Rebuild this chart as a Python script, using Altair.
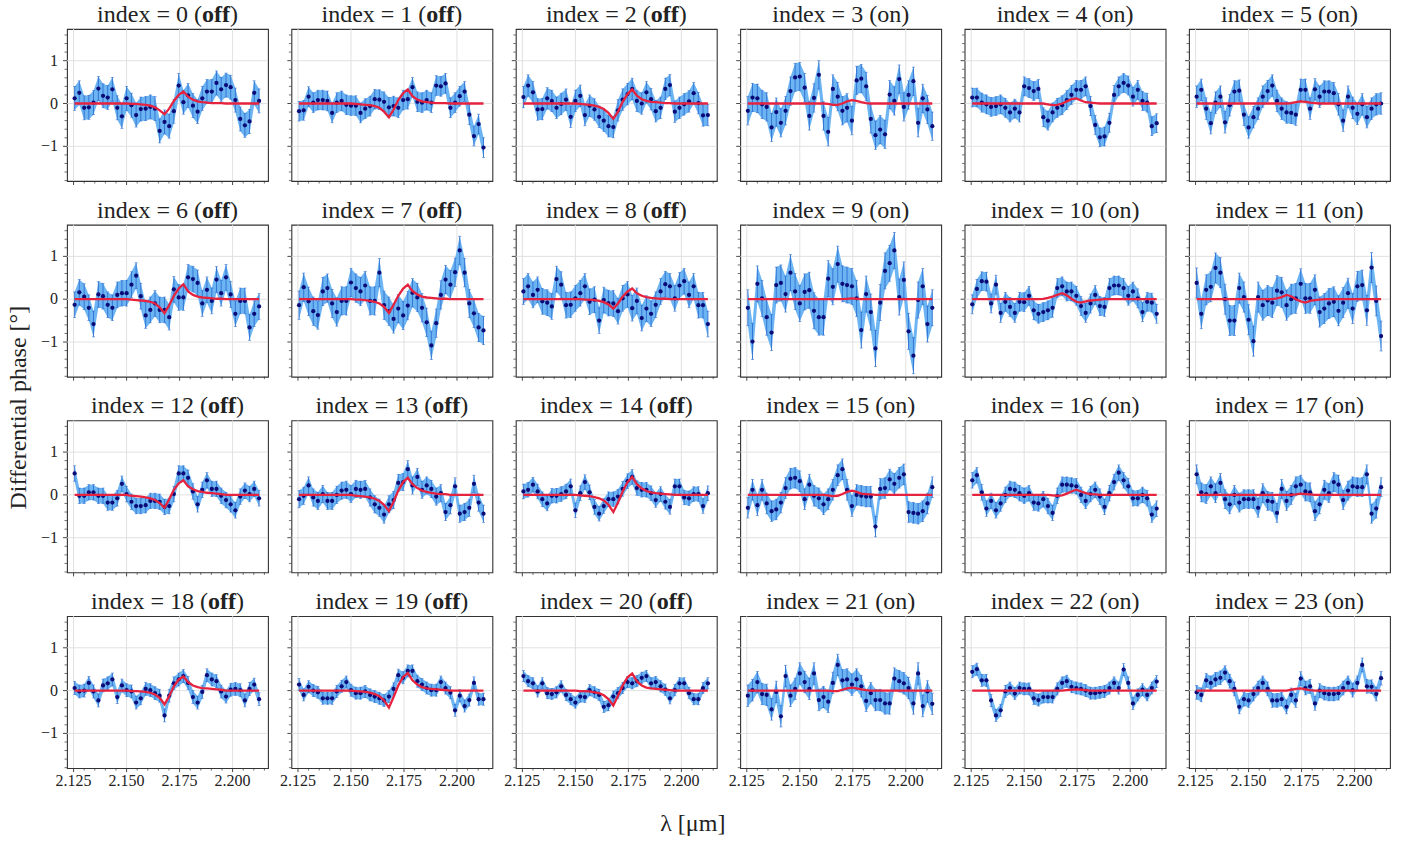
import altair as alt
import pandas as pd

# Spectral channels (micron)
WAVELENGTH = [2.1255, 2.1277, 2.1300, 2.1322, 2.1344, 2.1367, 2.1389, 2.1411, 2.1433, 2.1456,
              2.1478, 2.1500, 2.1523, 2.1545, 2.1567, 2.1590, 2.1612, 2.1634, 2.1656, 2.1679,
              2.1701, 2.1723, 2.1746, 2.1768, 2.1790, 2.1813, 2.1835, 2.1857, 2.1879, 2.1902,
              2.1924, 2.1946, 2.1969, 2.1991, 2.2013, 2.2036, 2.2058, 2.2080, 2.2102, 2.2125]

# Measured differential phase per frame (degrees)
PHASE_0 = [0.12, 0.25, -0.10, -0.09, 0.02, 0.35, 0.18, 0.14, 0.33, -0.10, -0.30, 0.12, -0.04, -0.27, -0.13, -0.12, -0.08, -0.12, -0.64, -0.43,
           -0.53, -0.18, 0.42, 0.03, 0.19, -0.05, -0.19, 0.12, 0.28, 0.28, 0.48, 0.33, 0.43, 0.38, 0.08, -0.36, -0.51, -0.42, 0.25, 0.06]
PHASE_1 = [-0.18, -0.16, 0.16, 0.02, 0.08, 0.08, 0.06, -0.22, 0.02, 0.06, -0.03, -0.05, -0.05, -0.22, -0.12, -0.06, 0.10, 0.09, 0.04, -0.09,
           -0.06, -0.10, 0.08, 0.10, 0.38, 0.04, 0.02, 0.08, 0.02, 0.42, 0.40, 0.47, -0.10, 0.02, 0.17, 0.28, -0.26, -0.76, -0.48, -1.03]
PHASE_2 = [0.15, 0.42, 0.26, -0.14, -0.13, 0.12, 0.06, -0.10, -0.01, 0.09, -0.31, 0.06, 0.18, -0.27, -0.05, -0.14, -0.31, -0.40, -0.53, -0.55,
           -0.16, 0.09, 0.22, 0.34, 0.06, 0.00, 0.26, 0.10, -0.18, -0.10, 0.34, 0.43, -0.19, -0.10, -0.02, 0.05, 0.24, 0.01, -0.28, -0.27]
PHASE_3 = [-0.17, 0.14, 0.12, -0.02, -0.08, -0.56, -0.20, -0.45, -0.17, 0.29, 0.61, 0.63, 0.37, -0.29, 0.13, 0.67, -0.29, -0.66, 0.34, 0.16,
           -0.17, -0.10, -0.40, 0.54, 0.58, 0.40, -0.36, -0.74, -0.61, -0.72, 0.21, 0.06, 0.57, -0.08, 0.20, 0.52, -0.45, 0.12, -0.14, -0.53]
PHASE_4 = [0.14, 0.14, 0.02, -0.02, -0.08, -0.06, -0.02, -0.10, -0.21, -0.12, -0.21, 0.40, 0.36, 0.29, 0.34, -0.32, -0.40, -0.21, -0.10, -0.04,
           0.08, 0.20, 0.32, 0.32, 0.40, -0.06, -0.50, -0.79, -0.77, -0.45, 0.20, 0.40, 0.48, 0.42, 0.16, 0.32, 0.06, 0.02, -0.53, -0.46]
PHASE_5 = [0.16, 0.32, -0.12, -0.46, 0.02, 0.16, -0.44, -0.04, 0.28, 0.30, -0.26, -0.56, -0.32, -0.12, 0.16, 0.29, 0.42, 0.06, -0.12, -0.21,
           -0.22, -0.26, 0.32, 0.32, -0.12, 0.33, 0.16, 0.28, 0.28, 0.24, -0.02, -0.40, 0.16, -0.10, -0.24, -0.02, -0.32, -0.12, -0.02, 0.00]
PHASE_6 = [-0.13, 0.16, 0.06, -0.20, -0.58, 0.11, 0.07, -0.13, -0.20, 0.10, 0.14, 0.14, 0.34, 0.55, 0.07, -0.38, -0.25, -0.10, -0.25, -0.25,
           -0.42, 0.23, 0.04, 0.04, 0.51, 0.47, 0.38, -0.10, 0.22, -0.04, 0.46, 0.14, 0.51, 0.11, -0.34, -0.04, -0.04, -0.66, -0.34, -0.17]
PHASE_7 = [-0.14, 0.28, -0.05, -0.28, -0.37, 0.18, 0.26, -0.10, -0.30, -0.04, -0.04, 0.39, 0.26, 0.18, 0.32, -0.04, -0.04, 0.62, -0.14, -0.28,
           -0.46, -0.22, -0.38, -0.15, 0.15, 0.04, -0.20, -0.54, -1.08, -0.56, 0.10, 0.46, 0.34, 0.63, 1.14, 0.62, -0.10, -0.33, -0.66, -0.73]
PHASE_8 = [0.18, 0.30, 0.10, 0.22, -0.05, -0.08, -0.17, 0.47, 0.34, -0.14, -0.13, 0.02, 0.14, 0.30, -0.06, -0.01, -0.50, -0.02, -0.09, -0.10,
           -0.28, 0.02, 0.11, -0.21, -0.04, -0.44, -0.22, -0.34, -0.13, 0.18, 0.35, 0.30, 0.02, 0.32, 0.42, 0.10, 0.30, -0.14, -0.14, -0.58]
PHASE_9 = [-0.20, -0.99, 0.36, 0.02, -0.42, -0.78, 0.33, 0.38, 0.12, 0.62, 0.18, -0.10, 0.17, 0.21, -0.27, -0.42, -0.42, 0.48, 0.29, 0.82,
           0.36, 0.33, 0.30, 0.02, -0.72, 0.12, -0.30, -1.15, -0.08, 0.66, 0.84, 1.14, 0.05, 0.45, -0.75, -1.32, -0.02, 0.30, -0.58, -0.20]
PHASE_10 = [-0.12, 0.24, 0.42, 0.41, -0.10, 0.34, -0.32, -0.06, -0.18, -0.32, -0.06, -0.07, 0.08, -0.26, -0.34, -0.30, -0.26, -0.20, 0.26, 0.30,
            0.18, 0.18, 0.08, -0.16, -0.32, -0.10, 0.10, -0.16, -0.18, 0.26, 0.32, 0.32, 0.26, 0.08, 0.18, 0.02, -0.30, -0.06, -0.08, -0.34]
PHASE_11 = [0.38, -0.34, 0.22, 0.29, 0.73, 0.62, 0.00, -0.50, -0.50, 0.26, 0.05, -0.48, -0.98, 0.05, -0.14, -0.03, -0.08, 0.20, 0.16, -0.14,
            0.00, 0.02, 0.36, 0.02, 0.02, 0.22, -0.30, -0.22, -0.10, -0.06, -0.27, -0.08, 0.14, -0.22, 0.30, 0.33, -0.26, 0.74, -0.04, -0.86]
PHASE_12 = [0.50, -0.02, -0.02, 0.06, 0.06, -0.02, -0.02, -0.18, -0.18, -0.08, 0.26, 0.02, -0.16, -0.26, -0.26, -0.24, -0.14, -0.14, -0.16, -0.28,
            -0.26, 0.02, 0.50, 0.50, 0.40, 0.08, -0.22, 0.12, 0.34, 0.14, 0.14, -0.02, -0.12, -0.22, -0.36, -0.04, 0.10, 0.02, 0.14, -0.08]
PHASE_13 = [-0.10, -0.02, 0.22, -0.06, -0.14, 0.02, -0.14, -0.14, 0.00, 0.10, 0.12, 0.02, 0.14, 0.12, 0.14, -0.06, -0.22, -0.30, -0.46, -0.22,
            -0.12, 0.28, 0.30, 0.60, 0.22, 0.42, 0.12, 0.22, 0.14, -0.04, 0.04, -0.40, -0.24, 0.20, -0.44, -0.40, -0.30, 0.26, -0.18, -0.44]
PHASE_14 = [0.08, 0.12, 0.24, 0.08, -0.10, -0.20, -0.02, -0.02, 0.02, 0.08, 0.20, -0.36, 0.04, 0.30, 0.06, -0.28, -0.44, -0.26, -0.10, -0.10,
            -0.04, 0.14, 0.32, 0.42, 0.16, 0.12, 0.12, 0.04, -0.12, 0.02, -0.16, -0.28, 0.20, 0.20, -0.06, -0.08, 0.02, 0.02, -0.26, 0.04]
PHASE_15 = [-0.30, 0.12, -0.24, 0.12, -0.20, -0.38, -0.34, -0.18, 0.16, 0.38, 0.40, 0.32, -0.10, 0.24, -0.02, -0.08, -0.22, -0.10, 0.12, 0.46,
            0.60, 0.12, -0.26, 0.00, -0.02, -0.04, -0.04, -0.74, 0.14, 0.16, 0.36, 0.26, 0.40, 0.48, -0.40, -0.42, -0.44, -0.38, -0.20, 0.18]
PHASE_16 = [0.34, 0.46, 0.06, -0.32, -0.14, -0.36, -0.20, 0.00, 0.14, 0.12, 0.04, -0.02, 0.04, -0.18, -0.20, -0.10, -0.26, -0.42, -0.02, 0.24,
            0.24, 0.22, 0.20, 0.00, -0.14, 0.02, 0.12, -0.04, -0.28, 0.04, 0.30, 0.52, 0.34, 0.20, -0.08, -0.08, 0.00, -0.08, -0.46, -0.32]
PHASE_17 = [0.48, 0.06, 0.02, 0.20, 0.04, 0.28, -0.10, -0.22, 0.00, -0.18, -0.10, -0.10, -0.10, -0.30, 0.04, -0.14, -0.16, -0.42, 0.14, -0.14,
            0.00, 0.20, 0.24, 0.08, 0.06, -0.38, -0.22, 0.12, 0.04, 0.30, 0.24, -0.12, 0.10, 0.20, 0.18, 0.18, 0.48, -0.44, -0.32, 0.18]
PHASE_18 = [0.06, -0.02, 0.00, 0.18, -0.02, -0.23, 0.12, 0.17, 0.26, -0.15, 0.12, 0.01, -0.02, -0.28, -0.18, 0.04, 0.01, -0.06, -0.12, -0.58,
            -0.12, 0.17, 0.26, 0.34, 0.18, -0.15, -0.28, -0.03, 0.36, 0.26, 0.22, -0.02, -0.14, 0.02, 0.04, 0.01, -0.23, 0.04, 0.14, -0.20]
PHASE_19 = [0.14, -0.10, 0.09, 0.00, -0.04, -0.18, -0.18, -0.18, -0.02, 0.10, 0.20, 0.01, -0.06, -0.06, -0.02, -0.10, -0.14, -0.18, -0.23, -0.14,
            0.04, 0.36, 0.30, 0.46, 0.46, 0.22, 0.14, 0.06, 0.01, 0.01, 0.20, 0.06, -0.05, -0.46, -0.12, -0.36, -0.22, 0.18, -0.20, -0.20]
PHASE_20 = [0.34, 0.22, 0.17, -0.02, 0.17, -0.06, -0.08, -0.04, 0.10, -0.10, -0.20, -0.28, -0.14, -0.15, 0.01, -0.04, -0.10, -0.38, -0.34, -0.14,
            -0.06, 0.06, 0.20, 0.17, 0.22, 0.30, 0.34, 0.17, 0.20, 0.10, 0.02, -0.18, 0.01, 0.17, 0.17, -0.06, -0.20, -0.20, 0.06, 0.17]
PHASE_21 = [-0.12, 0.01, 0.20, -0.08, -0.10, -0.44, -0.03, -0.60, 0.34, -0.12, 0.04, 0.40, 0.20, 0.04, 0.40, -0.22, -0.15, -0.26, 0.18, 0.60,
            0.24, 0.26, 0.14, 0.26, 0.10, -0.24, -0.06, -0.22, -0.22, -0.30, -0.30, 0.28, 0.22, 0.17, 0.06, -0.30, 0.40, -0.36, -0.02, -0.31]
PHASE_22 = [0.44, 0.50, 0.24, 0.24, -0.23, -0.58, -0.46, -0.02, 0.06, -0.07, 0.06, 0.04, 0.04, -0.18, -0.22, -0.15, -0.15, -0.15, 0.04, 0.18,
            0.22, 0.09, 0.06, 0.04, 0.00, -0.06, -0.06, -0.04, -0.02, 0.06, 0.18, 0.06, 0.49, 0.18, -0.30, -0.10, 0.02, -0.10, 0.06, 0.21]
PHASE_23 = [-0.04, -0.10, 0.24, 0.18, 0.26, 0.30, 0.42, 0.22, 0.04, -0.38, -0.20, -0.23, -0.08, 0.06, 0.18, 0.04, -0.23, -0.23, -0.20, -0.38,
            -0.10, -0.23, 0.28, 0.06, 0.10, -0.30, 0.00, -0.06, -0.08, -0.08, -0.06, 0.06, 0.18, 0.01, 0.18, 0.60, 0.10, 0.09, -0.08, 0.29]

# Phase uncertainty per frame (degrees)
ERR = [0.28, 0.23, 0.25, 0.33, 0.22, 0.25,
       0.30, 0.33, 0.30, 0.42, 0.22, 0.35,
       0.18, 0.20, 0.17, 0.24, 0.18, 0.22,
       0.15, 0.14, 0.13, 0.25, 0.14, 0.16]

# Chopping state of each frame
STATE = ["off", "off", "off", "on", "on", "on",
         "off", "off", "off", "on", "on", "on",
         "off", "off", "off", "on", "on", "on",
         "off", "off", "off", "on", "on", "on"]

# Model phase over the line region (channels 12..31); flat zero outside it
LINE_START, LINE_LEN = 12, 20
MODEL_0 = [-0.01, -0.01, -0.02, -0.03, -0.05, -0.09, -0.16, -0.25, -0.12, 0.06, 0.20, 0.28, 0.16, 0.09, 0.05, 0.03, 0.02, 0.01, 0.01, 0.01]
MODEL_1 = [-0.01, -0.02, -0.03, -0.04, -0.06, -0.10, -0.19, -0.32, -0.14, 0.08, 0.24, 0.33, 0.17, 0.09, 0.05, 0.03, 0.02, 0.01, 0.01, 0.01]
MODEL_2 = [-0.01, -0.02, -0.03, -0.05, -0.08, -0.13, -0.22, -0.36, -0.19, 0.04, 0.22, 0.33, 0.18, 0.10, 0.06, 0.04, 0.03, 0.02, 0.01, 0.01]
MODEL_3 = [0, 0, 0, 0, 0, -0.01, -0.03, -0.03, 0.00, 0.05, 0.08, 0.06, 0.03, 0.01, 0, 0, 0, 0, 0, 0]
MODEL_4 = [0, 0, 0, 0, -0.02, -0.04, -0.03, 0.00, 0.05, 0.10, 0.12, 0.07, 0.03, 0.02, 0.01, 0, 0, 0, 0, 0]
MODEL_5 = [0, 0, 0, 0, 0, 0, 0, 0, 0.01, 0.03, 0.05, 0.04, 0.02, 0.01, 0, 0, 0, 0, 0, 0]
MODEL_6 = [-0.01, -0.02, -0.03, -0.04, -0.06, -0.10, -0.19, -0.33, -0.14, 0.08, 0.25, 0.35, 0.18, 0.10, 0.06, 0.04, 0.03, 0.02, 0.01, 0.01]
MODEL_7 = [-0.01, -0.01, -0.02, -0.04, -0.06, -0.10, -0.18, -0.32, -0.13, 0.08, 0.25, 0.34, 0.19, 0.11, 0.06, 0.04, 0.03, 0.02, 0.01, 0.01]
MODEL_8 = [0, -0.01, -0.01, -0.02, -0.04, -0.07, -0.12, -0.22, -0.10, 0.06, 0.18, 0.25, 0.14, 0.08, 0.05, 0.03, 0.02, 0.01, 0.01, 0]
MODEL_9 = [0, 0, 0, 0, 0, 0, 0, 0, 0, 0.01, 0.02, 0.01, 0, 0, 0, 0, 0, 0, 0, 0]
MODEL_10 = [0, 0, 0, 0.01, 0.03, 0.06, 0.10, 0.14, 0.09, 0.01, -0.06, -0.08, -0.05, -0.03, -0.02, -0.01, 0, 0, 0, 0]
MODEL_11 = [0, 0, 0, 0, 0, 0.02, 0.05, 0.10, 0.07, 0.00, -0.05, -0.08, -0.04, -0.02, -0.01, 0, 0, 0, 0, 0]
MODEL_12 = [-0.02, -0.03, -0.04, -0.06, -0.08, -0.12, -0.19, -0.30, -0.10, 0.12, 0.27, 0.34, 0.20, 0.13, 0.09, 0.07, 0.05, 0.04, 0.03, 0.02]
MODEL_13 = [-0.02, -0.03, -0.04, -0.06, -0.09, -0.14, -0.23, -0.38, -0.16, 0.10, 0.30, 0.40, 0.25, 0.16, 0.10, 0.07, 0.05, 0.03, 0.02, 0.02]
MODEL_14 = [-0.01, -0.02, -0.03, -0.05, -0.08, -0.13, -0.23, -0.40, -0.18, 0.08, 0.30, 0.42, 0.25, 0.15, 0.09, 0.06, 0.04, 0.03, 0.02, 0.01]
MODEL_15 = [0, 0, 0, 0, 0, -0.01, -0.03, -0.02, 0.02, 0.07, 0.10, 0.07, 0.03, 0.02, 0.01, 0, 0, 0, 0, 0]
MODEL_16 = [0, 0, 0, 0, 0, -0.01, -0.02, -0.01, 0.03, 0.08, 0.12, 0.08, 0.04, 0.02, 0.01, 0, 0, 0, 0, 0]
MODEL_17 = [0, 0, 0, 0, 0, 0, 0, 0, 0, 0.01, 0.03, 0.02, 0.01, 0, 0, 0, 0, 0, 0, 0]
MODEL_18 = [-0.01, -0.01, -0.02, -0.03, -0.05, -0.09, -0.17, -0.32, -0.13, 0.10, 0.26, 0.33, 0.20, 0.12, 0.08, 0.06, 0.05, 0.04, 0.03, 0.02]
MODEL_19 = [-0.01, -0.02, -0.03, -0.05, -0.08, -0.13, -0.23, -0.40, -0.15, 0.12, 0.32, 0.41, 0.24, 0.14, 0.08, 0.05, 0.04, 0.03, 0.02, 0.01]
MODEL_20 = [-0.01, -0.01, -0.02, -0.04, -0.06, -0.11, -0.20, -0.35, -0.12, 0.12, 0.31, 0.40, 0.22, 0.12, 0.07, 0.05, 0.04, 0.03, 0.02, 0.01]
MODEL_21 = [0, 0, 0, 0, 0, 0, -0.01, -0.01, 0.02, 0.05, 0.07, 0.05, 0.03, 0.01, 0, 0, 0, 0, 0, 0]
MODEL_22 = [0, 0, 0, 0, 0, 0, 0, 0, 0.01, 0.02, 0.03, 0.02, 0.01, 0, 0, 0, 0, 0, 0, 0]
MODEL_23 = [0, 0, 0, 0, 0, 0, 0, 0, 0.02, 0.04, 0.05, 0.03, 0.01, 0, 0, 0, 0, 0, 0, 0]

X_MAJOR = [2.125, 2.150, 2.175, 2.200]
X_MINOR = [2.130, 2.135, 2.140, 2.145, 2.155, 2.160, 2.165, 2.170,
           2.180, 2.185, 2.190, 2.195, 2.205, 2.210, 2.215]
Y_MAJOR = [-1, 0, 1]
Y_MINOR = [-1.8, -1.6, -1.4, -1.2, -0.8, -0.6, -0.4, -0.2,
           0.2, 0.4, 0.6, 0.8, 1.2, 1.4, 1.6]

PHASES = [PHASE_0, PHASE_1, PHASE_2, PHASE_3, PHASE_4, PHASE_5,
          PHASE_6, PHASE_7, PHASE_8, PHASE_9, PHASE_10, PHASE_11,
          PHASE_12, PHASE_13, PHASE_14, PHASE_15, PHASE_16, PHASE_17,
          PHASE_18, PHASE_19, PHASE_20, PHASE_21, PHASE_22, PHASE_23]
MODEL_SEGMENTS = [MODEL_0, MODEL_1, MODEL_2, MODEL_3, MODEL_4, MODEL_5,
                  MODEL_6, MODEL_7, MODEL_8, MODEL_9, MODEL_10, MODEL_11,
                  MODEL_12, MODEL_13, MODEL_14, MODEL_15, MODEL_16, MODEL_17,
                  MODEL_18, MODEL_19, MODEL_20, MODEL_21, MODEL_22, MODEL_23]

# ---- styling ----
FONT = "Liberation Serif"
BAND = "#6db4f2"
BAR = "#2c6fd2"
DOT = "#0b0b78"
RED = "#e6233f"
FRAME = "#333333"
TEXT = "#222222"
GRID = "#dedede"

W, H = 201, 152
XDOM = [2.1219, 2.2167]
YDOM = [-1.81, 1.74]
TITLE_SIZE = 24
LABEL_SIZE = 16

# Advance widths (em) of the serif face, used to centre the mixed-weight titles
REG_W = {"i": 0.278, "n": 0.5, "d": 0.5, "e": 0.444, "x": 0.5, " ": 0.25, "=": 0.564,
         "(": 0.333, ")": 0.333, "o": 0.5, "f": 0.333}
BOLD_W = {"o": 0.5, "f": 0.333}


def text_width(s, table):
    return sum(table.get(ch, 0.5) for ch in s) * TITLE_SIZE


def model_curve(k):
    seg = MODEL_SEGMENTS[k]
    full = [0.0] * len(WAVELENGTH)
    full[LINE_START:LINE_START + LINE_LEN] = seg
    return full


XS = alt.Scale(domain=XDOM, nice=False, zero=False)
YS = alt.Scale(domain=YDOM, nice=False, zero=False)


def xq(field):
    return alt.X(field, type="quantitative", scale=XS, axis=None)


def yq(field):
    return alt.Y(field, type="quantitative", scale=YS, axis=None)


def title_layers(k):
    cx = W / 2
    y = -7
    common = dict(font=FONT, fontSize=TITLE_SIZE, color=TEXT, baseline="alphabetic")
    if STATE[k] == "on":
        t = f"index = {k} (on)"
        return [alt.Chart(pd.DataFrame({"t": [t]})).mark_text(align="center", **common)
                .encode(text="t:N", x=alt.value(cx), y=alt.value(y))]
    head = f"index = {k} ("
    w_head = text_width(head, REG_W)
    w_bold = text_width("off", BOLD_W)
    w_tail = text_width(")", REG_W)
    x0 = cx - (w_head + w_bold + w_tail) / 2 + w_head
    return [
        alt.Chart(pd.DataFrame({"t": [head]})).mark_text(align="right", **common)
        .encode(text="t:N", x=alt.value(x0), y=alt.value(y)),
        alt.Chart(pd.DataFrame({"t": ["off"]})).mark_text(align="left", fontWeight="bold", **common)
        .encode(text="t:N", x=alt.value(x0), y=alt.value(y)),
        alt.Chart(pd.DataFrame({"t": [")"]})).mark_text(align="left", **common)
        .encode(text="t:N", x=alt.value(x0 + w_bold), y=alt.value(y)),
    ]


def frame_layers(k):
    """Grid lines, major/minor ticks and tick labels of one panel."""
    r, c = divmod(k, 6)
    out = []
    # grid
    out.append(alt.Chart(pd.DataFrame({"v": X_MAJOR})).mark_rule(color=GRID, strokeWidth=0.9)
               .encode(x=xq("v"), y=alt.value(0), y2=alt.value(H)))
    out.append(alt.Chart(pd.DataFrame({"v": Y_MAJOR})).mark_rule(color=GRID, strokeWidth=0.9)
               .encode(y=yq("v"), x=alt.value(0), x2=alt.value(W)))
    # major ticks
    out.append(alt.Chart(pd.DataFrame({"v": X_MAJOR})).mark_rule(color=FRAME, strokeWidth=0.9)
               .encode(x=xq("v"), y=alt.value(H), y2=alt.value(H + 4)))
    out.append(alt.Chart(pd.DataFrame({"v": Y_MAJOR})).mark_rule(color=FRAME, strokeWidth=0.9)
               .encode(y=yq("v"), x=alt.value(0), x2=alt.value(-4)))
    # minor ticks
    out.append(alt.Chart(pd.DataFrame({"v": X_MINOR})).mark_rule(color=FRAME, strokeWidth=0.7)
               .encode(x=xq("v"), y=alt.value(H), y2=alt.value(H + 2.5)))
    out.append(alt.Chart(pd.DataFrame({"v": Y_MINOR})).mark_rule(color=FRAME, strokeWidth=0.7)
               .encode(y=yq("v"), x=alt.value(0), x2=alt.value(-2.5)))
    # tick labels on the outer panels only
    if r == 3:
        out.append(alt.Chart(pd.DataFrame({"v": X_MAJOR, "t": [f"{v:.3f}" for v in X_MAJOR]}))
                   .mark_text(font=FONT, fontSize=LABEL_SIZE, color=TEXT, align="center", baseline="top")
                   .encode(x=xq("v"), y=alt.value(H + 5), text="t:N"))
    if c == 0:
        out.append(alt.Chart(pd.DataFrame({"v": Y_MAJOR, "t": ["\u22121", "0", "1"]}))
                   .mark_text(font=FONT, fontSize=LABEL_SIZE, color=TEXT, align="right", baseline="middle")
                   .encode(y=yq("v"), x=alt.value(-9), text="t:N"))
    return out


def panel(k):
    df = pd.DataFrame({"lam": WAVELENGTH, "phi": PHASES[k], "model": model_curve(k)})
    df["lo"] = df["phi"] - ERR[k]
    df["hi"] = df["phi"] + ERR[k]

    base = alt.Chart(df)
    band = base.mark_area(color=BAND, opacity=1).encode(x=xq("lam"), y=yq("lo"), y2="hi:Q")
    bars = base.mark_rule(color=BAR, strokeWidth=0.9).encode(x=xq("lam"), y=yq("lo"), y2="hi:Q")
    cap_lo = base.mark_tick(color=BAR, orient="horizontal", size=3, thickness=0.8).encode(
        x=xq("lam"), y=yq("lo"))
    cap_hi = base.mark_tick(color=BAR, orient="horizontal", size=3, thickness=0.8).encode(
        x=xq("lam"), y=yq("hi"))
    dots = base.mark_circle(color=DOT, size=18, opacity=1).encode(x=xq("lam"), y=yq("phi"))
    model = base.mark_line(color=RED, strokeWidth=2.3).encode(x=xq("lam"), y=yq("model"))

    layers = frame_layers(k) + [band, bars, cap_lo, cap_hi, dots, model] + title_layers(k)

    if k == 6:
        layers.append(
            alt.Chart(pd.DataFrame({"t": ["Differential phase [°]"]}))
            .mark_text(font=FONT, fontSize=24, color=TEXT, angle=270, align="center", baseline="middle")
            .encode(text="t:N", x=alt.value(-48), y=alt.value(183))
        )
    if k == 20:
        layers.append(
            alt.Chart(pd.DataFrame({"t": ["λ [μm]"]}))
            .mark_text(font=FONT, fontSize=24, color=TEXT, align="center", baseline="alphabetic")
            .encode(text="t:N", x=alt.value(177), y=alt.value(215))
        )
    return alt.layer(*layers).properties(width=W, height=H)


chart = (
    alt.concat(*[panel(k) for k in range(24)], columns=6,
               spacing=alt.RowColnumber(row=43.7, column=23.4), bounds="flush")
    .properties(padding={"left": 6, "top": 2, "right": 5, "bottom": 5})
    .configure_view(stroke=FRAME, strokeWidth=1.1)
)

chart.save("out.html", embed_options={"renderer": "svg", "actions": False})
